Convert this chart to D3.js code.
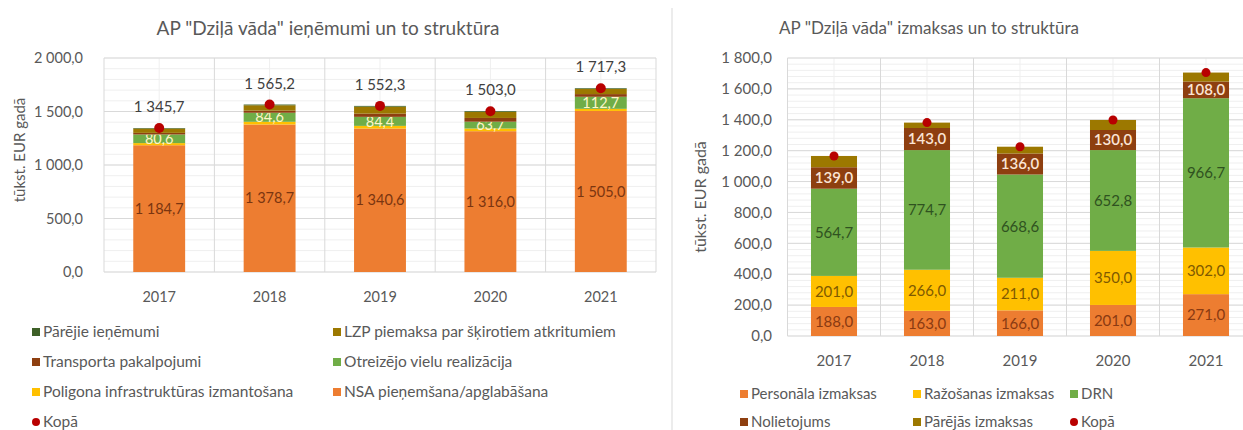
<!DOCTYPE html>
<html><head><meta charset="utf-8">
<script src="https://cdn.jsdelivr.net/npm/d3@7"></script>
<style>body{margin:0;background:#fff} svg{display:block} text{font-family:Lato,'Open Sans',sans-serif}</style>
</head><body><svg id="c" width="1243" height="430"></svg>
<script>
// ---------- DATA ----------
const years = ["2017","2018","2019","2020","2021"];
// Left chart: ieņēmumi
const leftNames = ["NSA pieņemšana/apglabāšana","Poligona infrastruktūras izmantošana","Otreizējo vielu realizācija","Transporta pakalpojumi","LZP piemaksa par šķirotiem atkritumiem","Pārējie ieņēmumi"];
const nsa        = [1184.7, 1378.7, 1340.6, 1316.0, 1505.0];
const poligona   = [20, 25, 25, 25, 20];
const otreizejo  = [80.6, 84.6, 84.4, 63.7, 112.7];
const transports = [15, 20, 30, 35, 25];
const lzp        = [40, 50, 65, 56, 48];
const parejieIen = [5.4, 6.9, 7.3, 7.3, 6.6];
const kopaIen    = [1345.7, 1565.2, 1552.3, 1503.0, 1717.3];
const leftTicks  = [0, 500, 1000, 1500, 2000];
// Right chart: izmaksas
const rightNames = ["Personāla izmaksas","Ražošanas izmaksas","DRN","Nolietojums","Pārējās izmaksas"];
const personala   = [188, 163, 166, 201, 271];
const razosanas   = [201, 266, 211, 350, 302];
const drn         = [564.7, 774.7, 668.6, 652.8, 966.7];
const nolietojums = [139, 143, 136, 130, 108];
const parejasIzm  = [73, 35, 44, 65, 58];
const kopaIzm     = [1165.7, 1381.7, 1225.6, 1398.8, 1705.7];
const rightTicks  = [0, 200, 400, 600, 800, 1000, 1200, 1400, 1600, 1800];

// ---------- STYLE ----------
const C = {orange:"#ED7D31", yellow:"#FFC000", green:"#70AD47", brown:"#8E3F10", olive:"#9C7800", dkgreen:"#3E6027", red:"#B80000", text:"#595959"};
const loc = d3.formatLocale({decimal:",", thousands:"\u00a0", grouping:[3]});
const fmt = loc.format(",.1f");

const svg = d3.select("#c");

function chart(cfg){
  const g = svg.append("g");
  const x = d3.scaleBand().domain(years).range(cfg.xr);
  const y = d3.scaleLinear().domain([0, cfg.max]).range(cfg.yr);
  const bw = x.bandwidth()*cfg.barRatio;
  const x0 = cfg.xr[0], x1 = Math.min(cfg.xr[1], cfg.clip);
  // minor horizontal grid
  g.append("g").selectAll("line").data(d3.range(0, cfg.max+0.001, cfg.minor)).join("line")
    .attr("x1",x0).attr("x2",x1).attr("y1",d=>y(d)).attr("y2",d=>y(d))
    .attr("stroke","#efefef").attr("stroke-width",1);
  // minor vertical grid at category centers
  g.append("g").selectAll("line").data(years).join("line")
    .attr("x1",d=>x(d)+x.bandwidth()/2).attr("x2",d=>x(d)+x.bandwidth()/2)
    .attr("y1",y(cfg.max)).attr("y2",y(0)).attr("stroke","#efefef");
  // major horizontal grid
  g.append("g").selectAll("line").data(cfg.ticks).join("line")
    .attr("x1",x0).attr("x2",x1).attr("y1",d=>y(d)).attr("y2",d=>y(d))
    .attr("stroke","#d9d9d9");
  // major vertical grid at band boundaries
  g.append("g").selectAll("line").data(years.map(d=>x(d)).concat([cfg.xr[1]]).filter(v=>v<=cfg.clip)).join("line")
    .attr("x1",d=>d).attr("x2",d=>d).attr("y1",y(cfg.max)).attr("y2",y(0)).attr("stroke","#d9d9d9");
  // y tick labels
  g.append("g").selectAll("text").data(cfg.ticks).join("text")
    .attr("x",cfg.ylabX).attr("y",d=>y(d)).attr("dy","0.35em").attr("text-anchor","end")
    .attr("font-size",cfg.tickSize).attr("fill",C.text).text(d=>fmt(d));
  // x labels
  g.append("g").selectAll("text").data(years).join("text")
    .attr("x",d=>x(d)+x.bandwidth()/2).attr("y",y(0)+25).attr("dy","0.35em").attr("text-anchor","middle")
    .attr("font-size",cfg.tickSize).attr("fill",C.text).text(d=>d);
  // y title
  g.append("text").attr("transform",`translate(${cfg.ytX},${cfg.ytY}) rotate(-90)`)
    .attr("text-anchor","middle").attr("dy","0.35em").attr("font-size",cfg.ytSize).attr("fill",C.text).text("tūkst. EUR gadā");
  // title
  g.append("text").attr("x",cfg.titleX).attr("y",28).attr("dy","0.35em").attr("text-anchor","middle")
    .attr("font-size",cfg.titleSize).attr("fill",C.text).text(cfg.title);
  // stacks
  const rows = years.map((yr,i)=>{const o={year:yr}; cfg.series.forEach(s=>o[s.name]=s.values[i]); return o;});
  const stack = d3.stack().keys(cfg.series.map(s=>s.name))(rows);
  stack.forEach((layer,li)=>{
    const s = cfg.series[li];
    g.append("g").selectAll("rect").data(layer).join("rect")
      .attr("x",d=>x(d.data.year)+(x.bandwidth()-bw)/2).attr("width",bw)
      .attr("y",d=>y(d[1])).attr("height",d=>y(d[0])-y(d[1])).attr("fill",s.color);
    if(s.label){
      g.append("g").selectAll("text").data(layer).join("text")
        .attr("x",d=>x(d.data.year)+x.bandwidth()/2).attr("y",d=>(y(d[0])+y(d[1]))/2).attr("dy","0.36em")
        .attr("text-anchor","middle").attr("font-size",cfg.labelSize).attr("font-weight",s.weight||400)
        .attr("fill",s.label).text(d=>fmt(d.data[s.name]));
    }
  });
  // totals
  g.append("g").selectAll("circle").data(cfg.total).join("circle")
    .attr("cx",(d,i)=>x(years[i])+x.bandwidth()/2).attr("cy",d=>y(d)).attr("r",cfg.dotR).attr("fill",C.red);
  if(cfg.totalLabels){
    g.append("g").selectAll("text").data(cfg.total).join("text")
      .attr("x",(d,i)=>x(years[i])+x.bandwidth()/2).attr("y",d=>y(d)-21).attr("dy","0.35em")
      .attr("text-anchor","middle").attr("font-size",15).attr("fill","#404040").text(d=>fmt(d));
  }
  // legend
  const lg = g.append("g");
  cfg.legend.forEach(it=>{
    if(it.dot) lg.append("circle").attr("cx",it.x+4).attr("cy",it.y).attr("r",4).attr("fill",it.color);
    else lg.append("rect").attr("x",it.x).attr("y",it.y-4).attr("width",8).attr("height",8).attr("fill",it.color);
    lg.append("text").attr("x",it.x+11).attr("y",it.y).attr("dy","0.35em").attr("font-size",cfg.legSize).attr("fill",C.text).text(it.name);
  });
}

chart({
  title:'AP "Dziļā vāda" ieņēmumi un to struktūra', titleX:328, titleSize:19,
  xr:[104,656], clip:660, yr:[272,58], max:2000, ticks:leftTicks, minor:100, barRatio:0.47,
  ylabX:83, ytX:20, ytY:150, ytSize:15, tickSize:14.5, legSize:15.5, labelSize:14.5, dotR:5, totalLabels:true,
  total:kopaIen,
  series:[
    {name:leftNames[0], values:nsa, color:C.orange, label:"#7A3510"},
    {name:leftNames[1], values:poligona, color:C.yellow},
    {name:leftNames[2], values:otreizejo, color:C.green, label:"#FFF6C8"},
    {name:leftNames[3], values:transports, color:C.brown},
    {name:leftNames[4], values:lzp, color:C.olive},
    {name:leftNames[5], values:parejieIen, color:C.dkgreen}
  ],
  legend:[
    {name:leftNames[5], color:C.dkgreen, x:32, y:332},
    {name:leftNames[4], color:C.olive, x:333, y:332},
    {name:leftNames[3], color:C.brown, x:32, y:362},
    {name:leftNames[2], color:C.green, x:333, y:362},
    {name:leftNames[1], color:C.yellow, x:32, y:392},
    {name:leftNames[0], color:C.orange, x:333, y:392},
    {name:"Kopā", color:C.red, x:32, y:422, dot:true}
  ]
});

chart({
  title:'AP "Dziļā vāda" izmaksas un to struktūra', titleX:929, titleSize:17,
  xr:[787.5,1252.5], clip:1243, yr:[336,58], max:1800, ticks:rightTicks, minor:40, barRatio:0.495,
  ylabX:772, ytX:700, ytY:197, ytSize:16, tickSize:15, legSize:15, labelSize:15, dotR:4.5, totalLabels:false,
  total:kopaIzm,
  series:[
    {name:rightNames[0], values:personala, color:C.orange, label:"#8A3A12"},
    {name:rightNames[1], values:razosanas, color:C.yellow, label:"#7F5A00"},
    {name:rightNames[2], values:drn, color:C.green, label:"#2F5220"},
    {name:rightNames[3], values:nolietojums, color:C.brown, label:"#FBE5D6", weight:600},
    {name:rightNames[4], values:parejasIzm, color:C.olive}
  ],
  legend:[
    {name:rightNames[0], color:C.orange, x:740, y:394},
    {name:rightNames[1], color:C.yellow, x:913, y:394},
    {name:rightNames[2], color:C.green, x:1070, y:394},
    {name:rightNames[3], color:C.brown, x:740, y:422},
    {name:rightNames[4], color:C.olive, x:913, y:422},
    {name:"Kopā", color:C.red, x:1070, y:422, dot:true}
  ]
});

// separator between the two charts
svg.append("line").attr("x1",672).attr("x2",672).attr("y1",8).attr("y2",430).attr("stroke","#d9d9d9");
</script></body></html>
